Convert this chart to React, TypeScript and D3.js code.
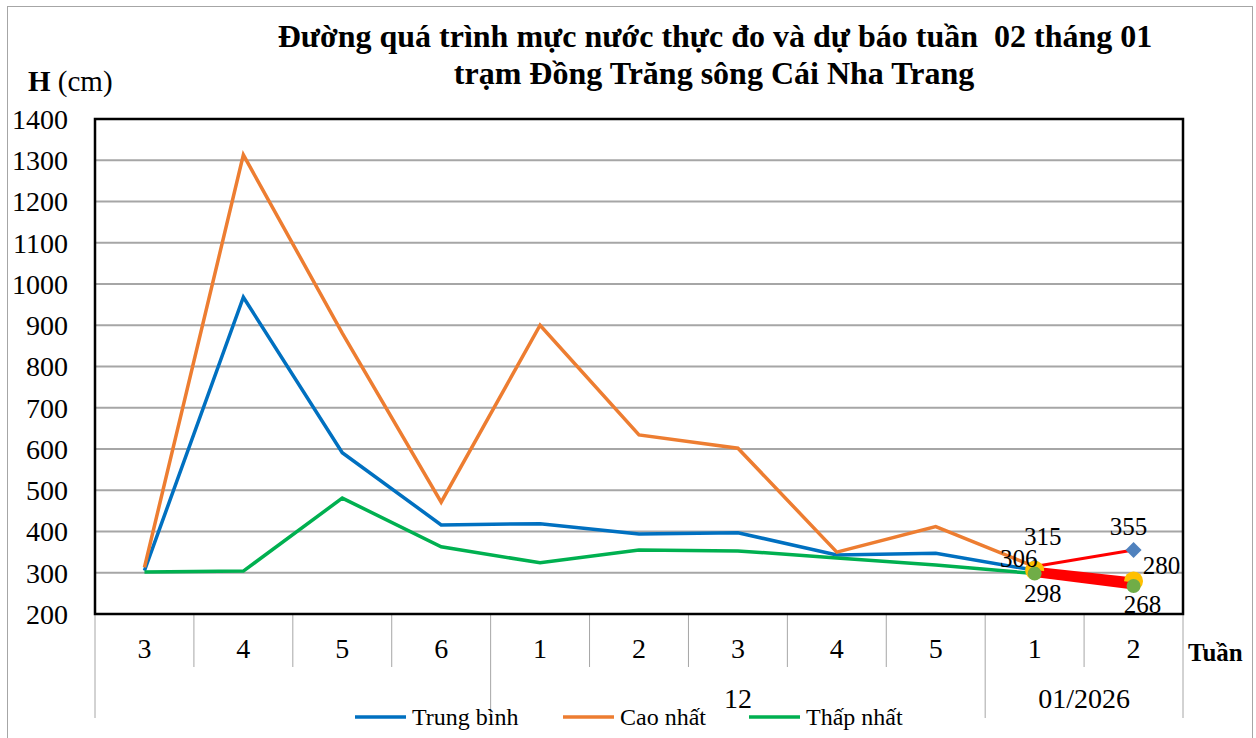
import React from "react";
import * as d3 from "d3";

const weeks = ["3", "4", "5", "6", "1", "2", "3", "4", "5", "1", "2"];
const groups = [
  { label: "", start: 0, end: 4 },
  { label: "12", start: 4, end: 9 },
  { label: "01/2026", start: 9, end: 11 },
];
const trungBinh = [305, 968, 591, 416, 419, 394, 397, 343, 347, 306];
const caoNhat = [313, 1313, 881, 471, 900, 634, 602, 350, 412, 315];
const thapNhat = [302, 304, 481, 363, 324, 355, 353, 336, 319, 298];
const forecastIdx = [9, 10];
const duBaoCao = [315, 355];
const duBaoTB = [306, 280];
const duBaoThap = [298, 268];
const yTicks = [200, 300, 400, 500, 600, 700, 800, 900, 1000, 1100, 1200, 1300, 1400];

const W = 1256, H = 738;
const L = 95, R = 1183, T = 119, B = 614;
const FONT = "'Liberation Serif', 'Times New Roman', serif";

export default function App() {
  const x = d3.scaleBand<number>().domain(d3.range(weeks.length)).range([L, R]).padding(0);
  const y = d3.scaleLinear().domain([200, 1400]).range([B, T]);
  const cx = (i: number) => (x(i) as number) + x.bandwidth() / 2;
  const line = d3.line<number>().x((_, i) => cx(i)).y((v) => y(v));
  const fline = d3.line<number>().x((_, i) => cx(forecastIdx[i])).y((v) => y(v));
  const dm = 8;
  const diamond = `M0,${-dm}L${dm},0L0,${dm}L${-dm},0Z`;

  const series = [
    { name: "Trung bình", data: trungBinh, color: "#0070C0" },
    { name: "Cao nhất", data: caoNhat, color: "#ED7D31" },
    { name: "Thấp nhất", data: thapNhat, color: "#00B050" },
  ];
  const legendX = [355, 563, 749];

  return (
    <svg width={W} height={H} style={{ position: "absolute", left: 0, top: 0 }} fontFamily={FONT}>
      <rect x={0} y={0} width={W} height={H} fill="#fff" />
      <rect x={7.5} y={6.5} width={1245} height={760} fill="none" stroke="#A6A6A6" strokeWidth={1} />
      {/* title */}
      <text x={715} y={47} textAnchor="middle" fontWeight="bold" fontSize={32} style={{ whiteSpace: "pre" }}>
        {"Đường quá trình mực nước thực đo và dự báo tuần  02 tháng 01"}
      </text>
      <text x={714} y={84} textAnchor="middle" fontWeight="bold" fontSize={32}>
        trạm Đồng Trăng sông Cái Nha Trang
      </text>
      <text x={28} y={91} fontSize={29}>
        <tspan fontWeight="bold">H</tspan> (cm)
      </text>
      {/* grid */}
      {yTicks.slice(1, -1).map((t) => (
        <line key={t} x1={L} x2={R} y1={y(t)} y2={y(t)} stroke="#A6A6A6" strokeWidth={2} />
      ))}
      {yTicks.map((t) => (
        <text key={"l" + t} x={68} y={y(t)} dy="0.35em" textAnchor="end" fontSize={28}>
          {t}
        </text>
      ))}
      {/* category separators */}
      {d3.range(weeks.length + 1).map((i) => {
        const xx = i < weeks.length ? (x(i) as number) : R;
        const long = groups.some((g) => g.start === i) || i === weeks.length;
        return (
          <line key={"s" + i} x1={xx} x2={xx} y1={B} y2={long ? 718 : 667} stroke="#A6A6A6" strokeWidth={1} />
        );
      })}
      {weeks.map((w, i) => (
        <text key={"w" + i} x={cx(i)} y={648} dy="0.35em" textAnchor="middle" fontSize={28}>
          {w}
        </text>
      ))}
      {groups.map((g) => (
        <text
          key={"g" + g.start}
          x={((x(g.start) as number) + (g.end < weeks.length ? (x(g.end) as number) : R)) / 2}
          y={698}
          dy="0.35em"
          textAnchor="middle"
          fontSize={28}
        >
          {g.label}
        </text>
      ))}
      <text x={1188} y={652} dy="0.35em" fontWeight="bold" fontSize={25}>
        Tuần
      </text>
      {/* series */}
      {series.map((s) => (
        <path key={s.name} d={line(s.data) as string} fill="none" stroke={s.color} strokeWidth={3.5} strokeLinejoin="miter" />
      ))}
      {/* forecast */}
      <path d={fline(duBaoCao) as string} fill="none" stroke="#FF0000" strokeWidth={3} />
      {duBaoCao.map((v, i) => (
        <path key={"dc" + i} d={diamond} transform={`translate(${cx(forecastIdx[i])},${y(v)})`} fill="#4F81BD" />
      ))}
      <path d={fline(duBaoTB) as string} fill="none" stroke="#FF0000" strokeWidth={7} />
      {duBaoTB.map((v, i) => (
        <circle key={"dt" + i} cx={cx(forecastIdx[i])} cy={y(v)} r={9.5} fill="#FFC000" />
      ))}
      <path d={fline(duBaoThap) as string} fill="none" stroke="#FF0000" strokeWidth={7} />
      {duBaoThap.map((v, i) => (
        <circle key={"dl" + i} cx={cx(forecastIdx[i])} cy={y(v)} r={7} fill="#70AD47" />
      ))}
      {/* data labels */}
      <text x={cx(9) + 8} y={y(duBaoCao[0]) - 30} dy="0.35em" textAnchor="middle" fontSize={25}>
        {duBaoCao[0]}
      </text>
      <text x={cx(10) - 5} y={y(duBaoCao[1]) - 24} dy="0.35em" textAnchor="middle" fontSize={25}>
        {duBaoCao[1]}
      </text>
      <text x={cx(9) - 16} y={y(duBaoTB[0]) - 12} dy="0.35em" textAnchor="middle" fontSize={25}>
        {duBaoTB[0]}
      </text>
      <text x={cx(10) + 28} y={y(duBaoTB[1]) - 16} dy="0.35em" textAnchor="middle" fontSize={25}>
        {duBaoTB[1]}
      </text>
      <text x={cx(9) + 8} y={y(duBaoThap[0]) + 20} dy="0.35em" textAnchor="middle" fontSize={25}>
        {duBaoThap[0]}
      </text>
      <text x={cx(10) + 9} y={y(duBaoThap[1]) + 18} dy="0.35em" textAnchor="middle" fontSize={25}>
        {duBaoThap[1]}
      </text>
      {/* frame */}
      <rect x={L} y={T} width={R - L} height={B - T} fill="none" stroke="#000" strokeWidth={2.5} />
      {/* legend */}
      {series.map((s, i) => (
        <g key={"lg" + i}>
          <line x1={legendX[i]} x2={legendX[i] + 51} y1={717} y2={717} stroke={s.color} strokeWidth={3.5} />
          <text x={legendX[i] + 57} y={717} dy="0.35em" fontSize={24}>
            {s.name}
          </text>
        </g>
      ))}
    </svg>
  );
}
